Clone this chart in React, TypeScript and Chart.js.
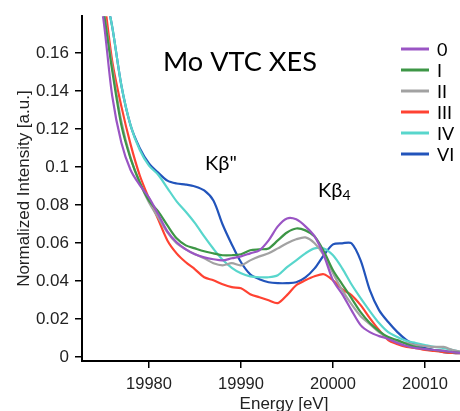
import React, { useEffect, useRef } from "react";
import { Chart, registerables } from "chart.js";

Chart.register(...registerables);

// ---- data ----
const energy = [
  19974, 19975, 19976, 19977, 19978, 19979, 19980, 19981, 19982, 19983,
  19984, 19985, 19986, 19987, 19988, 19989, 19990, 19991, 19992, 19993,
  19994, 19995, 19996, 19997, 19998, 19999, 20000, 20001, 20002, 20003,
  20004, 20005, 20006, 20007, 20008, 20009, 20010, 20011, 20012, 20013,
  20014,
];

const series0 = [
  0.205, 0.1796, 0.1376, 0.1129, 0.0985, 0.0905, 0.084, 0.0752, 0.0662, 0.0604,
  0.0567, 0.0541, 0.0525, 0.0515, 0.0509, 0.052, 0.053, 0.0546, 0.0562, 0.0614,
  0.0688, 0.073, 0.0725, 0.0688, 0.0635, 0.0536, 0.0404, 0.0331, 0.0247, 0.0168,
  0.0131, 0.011, 0.0095, 0.0074, 0.0058, 0.0047, 0.0042, 0.0037, 0.0032, 0.0026,
  0.0021,
];
const seriesI = [
  0.21, 0.184, 0.151, 0.122, 0.1045, 0.0919, 0.0824, 0.0767, 0.0693, 0.0625,
  0.0588, 0.0572, 0.0557, 0.0546, 0.0536, 0.0536, 0.0541, 0.0562, 0.0567, 0.0572,
  0.0614, 0.0656, 0.0677, 0.0667, 0.0635, 0.0557, 0.0457, 0.0383, 0.031, 0.0236,
  0.0179, 0.0137, 0.0105, 0.0089, 0.0068, 0.0053, 0.0042, 0.0037, 0.0032, 0.0026,
  0.0021,
];
const seriesII = [
  0.211, 0.185, 0.153, 0.124, 0.105, 0.0919, 0.0814, 0.0735, 0.0656, 0.0599,
  0.0567, 0.0541, 0.052, 0.0494, 0.0483, 0.0494, 0.0483, 0.0509, 0.053, 0.0546,
  0.0572, 0.0599, 0.062, 0.063, 0.0599, 0.0536, 0.0441, 0.0352, 0.0278, 0.0215,
  0.0173, 0.0131, 0.01, 0.0079, 0.0074, 0.0063, 0.0058, 0.0053, 0.0053, 0.0037,
  0.0026,
];
const seriesIII = [
  0.219, 0.193, 0.156, 0.132, 0.112, 0.0956, 0.0835, 0.0725, 0.0614, 0.0546,
  0.0499, 0.0462, 0.042, 0.0404, 0.0383, 0.0368, 0.0362, 0.0331, 0.0315, 0.0299,
  0.0284, 0.0326, 0.0378, 0.0404, 0.0425, 0.0436, 0.0404, 0.0357, 0.0326, 0.0273,
  0.0205, 0.0142, 0.0089, 0.0068, 0.0053, 0.0047, 0.0037, 0.0032, 0.0026, 0.0021,
  0.0021,
];
const seriesIV = [
  0.226, 0.198, 0.174, 0.143, 0.122, 0.109, 0.1008, 0.096, 0.089, 0.082,
  0.0765, 0.0705, 0.0635, 0.057, 0.0512, 0.047, 0.0441, 0.0425, 0.042, 0.042,
  0.0431, 0.0473, 0.0509, 0.0546, 0.0572, 0.0572, 0.0536, 0.0467, 0.0383, 0.031,
  0.0242, 0.0179, 0.0131, 0.0105, 0.0084, 0.0074, 0.0063, 0.0053, 0.0047, 0.0037,
  0.0026,
];
const seriesVI = [
  0.226, 0.198, 0.174, 0.143, 0.122, 0.11, 0.102, 0.0971, 0.0929, 0.0914,
  0.0908, 0.0898, 0.0877, 0.0824, 0.0698, 0.0593, 0.0499, 0.0436, 0.041, 0.0394,
  0.0389, 0.0389, 0.0394, 0.042, 0.0467, 0.0536, 0.0593, 0.0599, 0.0599, 0.0509,
  0.0352, 0.0247, 0.0184, 0.0131, 0.0089, 0.0063, 0.0047, 0.0037, 0.0026, 0.0021,
  0.0021,
];

const seriesLabels = ["0", "I", "II", "III", "IV", "VI"];
const seriesColors = ["#9a55c4", "#3d9646", "#a2a2a2", "#ff4232", "#58d6cc", "#2254bb"];
const seriesValues = [series0, seriesI, seriesII, seriesIII, seriesIV, seriesVI];

const xTicks = [19980, 19990, 20000, 20010];
const yTicks = [0, 0.02, 0.04, 0.06, 0.08, 0.1, 0.12, 0.14, 0.16];

const chartTitle = "Mo VTC XES";
const peakLabel1 = 'Kβ"';
const peakLabel2 = "Kβ";
const peakLabel2Sub = "4";
const xTitle = "Energy [eV]";
const yTitle = "Normalized Intensity [a.u.]";

const TICK_FONT = '"Liberation Sans", Arial, Helvetica, sans-serif';
const NOTE_FONT = 'Lato, "Open Sans", sans-serif';

const notesPlugin = {
  id: "notes",
  afterDraw(chart: any) {
    const ctx = chart.ctx as CanvasRenderingContext2D;
    ctx.save();
    ctx.fillStyle = "#000";
    ctx.textAlign = "left";
    ctx.textBaseline = "alphabetic";

    // title, sized to match the reference width
    ctx.font = `30px ${NOTE_FONT}`;
    const w = ctx.measureText(chartTitle).width;
    const size = Math.max(20, Math.min(34, (30 * 154) / w));
    ctx.font = `${size}px ${NOTE_FONT}`;
    ctx.fillText(chartTitle, 163, 71);

    // peak labels
    ctx.font = `20px ${NOTE_FONT}`;
    ctx.fillText(peakLabel1, 205, 170);
    ctx.fillText(peakLabel2, 318, 197);
    const kw = ctx.measureText(peakLabel2).width;
    ctx.font = `14px ${NOTE_FONT}`;
    ctx.fillText(peakLabel2Sub, 318 + kw, 200);

    // x-axis title (offset right of the plot centre, as in the reference)
    ctx.fillStyle = "#222";
    ctx.font = `17px ${TICK_FONT}`;
    ctx.textAlign = "center";
    ctx.textBaseline = "middle";
    ctx.fillText(xTitle, 284, 404);

    // legend
    ctx.textAlign = "left";
    ctx.font = `18px ${NOTE_FONT}`;
    chart.data.datasets.forEach((ds: any, i: number) => {
      const y = 49 + i * 21;
      ctx.strokeStyle = ds.borderColor;
      ctx.lineWidth = 3;
      ctx.beginPath();
      ctx.moveTo(401, y);
      ctx.lineTo(429, y);
      ctx.stroke();
      ctx.fillStyle = "#000";
      ctx.fillText(ds.label, 437, y + 1);
    });
    ctx.restore();
  },
};

export default function App() {
  const canvasRef = useRef<HTMLCanvasElement | null>(null);

  useEffect(() => {
    if (!canvasRef.current) return;
    const chart = new Chart(canvasRef.current, {
      type: "line",
      data: {
        datasets: seriesLabels.map((label, i) => ({
          label,
          data: energy.map((e, j) => ({ x: e, y: seriesValues[i][j] })),
          borderColor: seriesColors[i],
          backgroundColor: seriesColors[i],
          borderWidth: 2.2,
          pointRadius: 0,
          tension: 0.3,
          fill: false,
        })),
      },
      options: {
        responsive: false,
        maintainAspectRatio: false,
        animation: false,
        devicePixelRatio: 1,
        layout: { padding: { top: 15, right: 0, left: 0, bottom: 0 } },
        plugins: {
          legend: { display: false },
          tooltip: { enabled: false },
          title: { display: false },
        },
        scales: {
          x: {
            type: "linear",
            min: 19972.72,
            max: 20013.8,
            afterFit: (s: any) => {
              s.height = 50;
            },
            afterBuildTicks: (s: any) => {
              s.ticks = xTicks.map((v) => ({ value: v }));
            },
            grid: {
              display: true,
              drawOnChartArea: false,
              drawTicks: true,
              tickLength: 7,
              color: "#000",
              lineWidth: 1.5,
            },
            border: { display: true, color: "#000", width: 2 },
            ticks: {
              color: "#222",
              font: { family: TICK_FONT, size: 16.5 },
              padding: 7,
              maxRotation: 0,
              autoSkip: false,
              callback: (v: any) => String(v),
            },
            title: { display: false },
          },
          y: {
            type: "linear",
            min: -0.0021,
            max: 0.1795,
            afterFit: (s: any) => {
              s.width = 82;
            },
            afterBuildTicks: (s: any) => {
              s.ticks = yTicks.map((v) => ({ value: v }));
            },
            grid: {
              display: true,
              drawOnChartArea: false,
              drawTicks: true,
              tickLength: 7,
              color: "#000",
              lineWidth: 1.5,
            },
            border: { display: true, color: "#000", width: 2 },
            ticks: {
              color: "#222",
              font: { family: TICK_FONT, size: 17 },
              padding: 6,
              autoSkip: false,
              callback: (v: any) => Number(v).toFixed(2).replace(/\.?0+$/, ""),
            },
            title: {
              display: true,
              text: yTitle,
              color: "#222",
              font: { family: TICK_FONT, size: 17 },
              padding: { top: 14, bottom: 0 },
            },
          },
        },
      },
      plugins: [notesPlugin],
    });
    return () => chart.destroy();
  }, []);

  return (
    <div style={{ position: "fixed", left: 0, top: 0, width: 460, height: 411, background: "#fff" }}>
      <canvas ref={canvasRef} width={460} height={411} style={{ display: "block" }} />
    </div>
  );
}
